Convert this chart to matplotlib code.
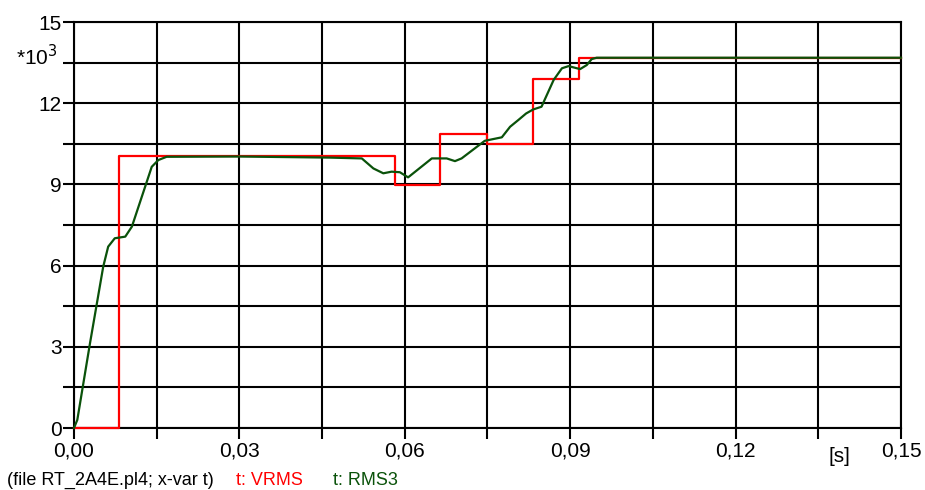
import matplotlib
matplotlib.use("Agg")
import matplotlib.pyplot as plt
import numpy as np

plt.rcParams['font.family'] = ['Liberation Sans', 'DejaVu Sans']

# VRMS (red step)
vrms_t = [0.0, 0.00816, 0.00816, 0.0582, 0.0582, 0.0664, 0.0664, 0.0749, 0.0749,
          0.0833, 0.0833, 0.0916, 0.0916, 0.15]
vrms_v = [0.0, 0.0, 10.05, 10.05, 8.97, 8.97, 10.86, 10.86, 10.49,
          10.49, 12.89, 12.89, 13.67, 13.67]

# RMS3 (green)
rms3_t = [0.0, 0.0006, 0.0029, 0.0053, 0.0062, 0.0074, 0.0093, 0.0105, 0.0141,
          0.0153, 0.0168, 0.0300, 0.0464, 0.0522, 0.0543, 0.0561, 0.0576, 0.0591,
          0.0606, 0.0649, 0.0676, 0.0691, 0.0703, 0.0745, 0.0776, 0.0791, 0.0806,
          0.0820, 0.0833, 0.0848, 0.0870, 0.0885, 0.0897, 0.0918, 0.0930, 0.0939,
          0.0948, 0.15]
rms3_v = [0.0, 0.3, 3.13, 5.96, 6.70, 7.01, 7.07, 7.44, 9.65,
          9.90, 10.02, 10.03, 9.99, 9.96, 9.59, 9.41, 9.47, 9.45,
          9.26, 9.96, 9.96, 9.86, 9.96, 10.61, 10.74, 11.13, 11.38,
          11.62, 11.77, 11.87, 12.86, 13.29, 13.37, 13.26, 13.41, 13.63,
          13.68, 13.68]

x_ticks = [0.0, 0.015, 0.03, 0.045, 0.06, 0.075, 0.09, 0.105, 0.12, 0.135, 0.15]
x_labels = ['0,00', '', '0,03', '', '0,06', '', '0,09', '', '0,12', '', '0,15']
y_ticks = [0, 1.5, 3, 4.5, 6, 7.5, 9, 10.5, 12, 13.5, 15]
y_labels = ['0', '', '3', '', '6', '', '9', '', '12', '', '15']

fig = plt.figure(figsize=(9.25, 4.9), dpi=100)
ax = fig.add_axes([74/925, 1-428/490, (901-74)/925, (428-22)/490])

ax.set_xlim(0, 0.15)
ax.set_ylim(0, 15)
ax.set_xticks(x_ticks)
ax.set_xticklabels(x_labels)
ax.set_yticks(y_ticks)
ax.set_yticklabels(y_labels)
ax.grid(True, color='black', linewidth=1.5)
ax.set_axisbelow(True)
for s in ax.spines.values():
    s.set_linewidth(1.5)
    s.set_color('black')
ax.tick_params(axis='both', direction='out', length=8, width=1.5, labelsize=15, pad=2)
ax.tick_params(axis='y', pad=1)

ax.plot(vrms_t, vrms_v, color='#ff0000', linewidth=1.6, clip_on=False, zorder=3)
ax.plot(rms3_t, rms3_v, color='#0a520a', linewidth=1.6, clip_on=False, zorder=4)

fig.text(16/925, 1-57/490, '*10$^{3}$', fontsize=15, ha='left', va='center')
fig.text(829/925, 1-456/490, '[s]', fontsize=15, ha='left', va='center')
fig.text(7/925, 1-480/490, '(file RT_2A4E.pl4; x-var t)', fontsize=13, ha='left', va='center')
fig.text(236/925, 1-480/490, 't: VRMS', fontsize=13, color='#ff0000', ha='left', va='center')
fig.text(333/925, 1-480/490, 't: RMS3', fontsize=13, color='#0a520a', ha='left', va='center')

fig.savefig('out.png', dpi=100)
